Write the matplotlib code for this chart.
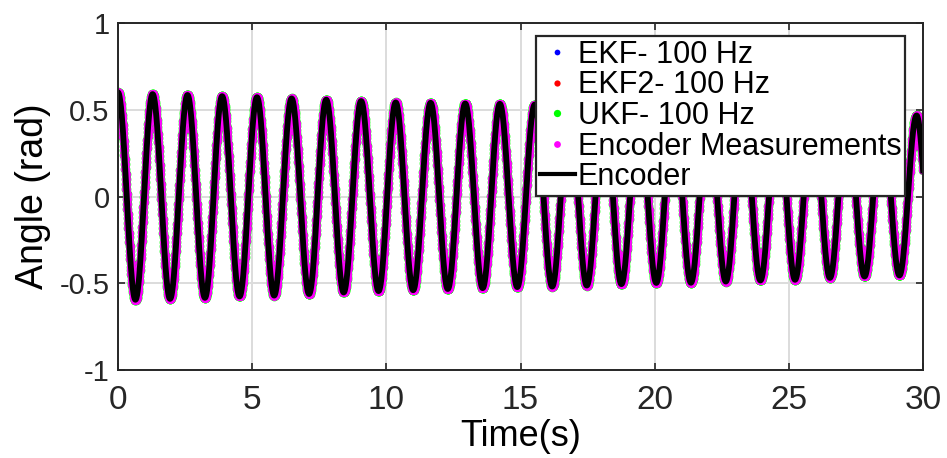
import matplotlib
matplotlib.use("Agg")
import matplotlib.pyplot as plt
import numpy as np

plt.rcParams.update({
    "font.family": ["Liberation Sans", "DejaVu Sans"],
    "axes.edgecolor": "#262626",
    "xtick.color": "#262626",
    "ytick.color": "#262626",
})

# extrema of the encoder angle (s, rad)
peak_t = [0.00, 1.29, 2.59, 3.88, 5.18, 6.47, 7.76, 9.06, 10.35, 11.65, 12.94, 14.23,
          15.53, 16.82, 18.12, 19.41, 20.70, 22.00, 23.29, 24.59, 25.88, 27.17, 28.47, 29.76]
peak_v = [0.600, 0.590, 0.585, 0.578, 0.572, 0.565, 0.558, 0.550, 0.542, 0.540, 0.536, 0.534,
          0.530, 0.525, 0.520, 0.515, 0.510, 0.505, 0.500, 0.495, 0.488, 0.482, 0.475, 0.467]
trough_t = [0.65, 1.94, 3.24, 4.53, 5.82, 7.12, 8.41, 9.71, 11.00, 12.29, 13.59, 14.88,
            16.18, 17.47, 18.76, 20.06, 21.35, 22.65, 23.94, 25.23, 26.53, 27.82, 29.12, 30.36]
trough_v = [-0.595, -0.590, -0.584, -0.576, -0.571, -0.562, -0.553, -0.545, -0.540, -0.533,
            -0.528, -0.522, -0.519, -0.513, -0.505, -0.498, -0.497, -0.490, -0.484, -0.480,
            -0.469, -0.461, -0.455, -0.450]

labels = ["EKF- 100 Hz", "EKF2- 100 Hz", "UKF- 100 Hz", "Encoder Measurements", "Encoder"]

# merge extrema in time order, half-cosine between neighbours (pendulum shape)
ext_t = np.array(sorted(peak_t + trough_t))
ext_v = np.array([v for _, v in sorted(zip(peak_t + trough_t, peak_v + trough_v))])
t = np.arange(0, 30.0001, 0.01)
idx = np.clip(np.searchsorted(ext_t, t, side="right") - 1, 0, len(ext_t) - 2)
t0, t1 = ext_t[idx], ext_t[idx + 1]
v0, v1 = ext_v[idx], ext_v[idx + 1]
y = (v0 + v1) / 2 + (v0 - v1) / 2 * np.cos(np.pi * (t - t0) / (t1 - t0))

fig = plt.figure(figsize=(9.47, 4.58), dpi=100)
ax = fig.add_axes([0.1246, 0.1921, 0.8501, 0.7577])

ax.plot(t, y, "o", ms=5.5, mew=0, color="#0000ff", label=labels[0])
ax.plot(t, y, "o", ms=6.0, mew=0, color="#ff0000", label=labels[1])
ax.plot(t, y, "o", ms=7.0, mew=0, color="#00ff00", label=labels[2])
ax.plot(t, y, "o", ms=6.5, mew=0, color="#ff00ff", label=labels[3])
ax.plot(t, y, "-", lw=4.2, color="black", label=labels[4])

ax.set_xlim(0, 30)
ax.set_ylim(-1, 1)
ax.set_xticks([0, 5, 10, 15, 20, 25, 30])
ax.set_yticks([-1, -0.5, 0, 0.5, 1])
ax.set_yticklabels(["-1", "-0.5", "0", "0.5", "1"])
ax.grid(True, color="#dcdcdc", lw=1.4)
ax.set_axisbelow(True)
ax.tick_params(direction="in", top=True, right=True, length=5, width=1.2)
ax.tick_params(axis="x", labelsize=24, pad=11)
ax.tick_params(axis="y", labelsize=21, pad=6)
for s in ax.spines.values():
    s.set_linewidth(1.4)
ax.set_xlabel("Time(s)", fontsize=26, labelpad=2)
ax.set_ylabel("Angle (rad)", fontsize=27, labelpad=6)

leg = ax.legend(loc="upper right", bbox_to_anchor=(0.9776, 0.9625), fontsize=22,
                frameon=True, fancybox=False, framealpha=1, edgecolor="#262626",
                handlelength=1.15, handletextpad=0.1, borderpad=0.12,
                labelspacing=0.02, borderaxespad=0, markerscale=0.75)
leg.get_frame().set_linewidth(1.6)
leg.legend_handles[4].set_linewidth(3)

fig.savefig("out.png", dpi=100)
